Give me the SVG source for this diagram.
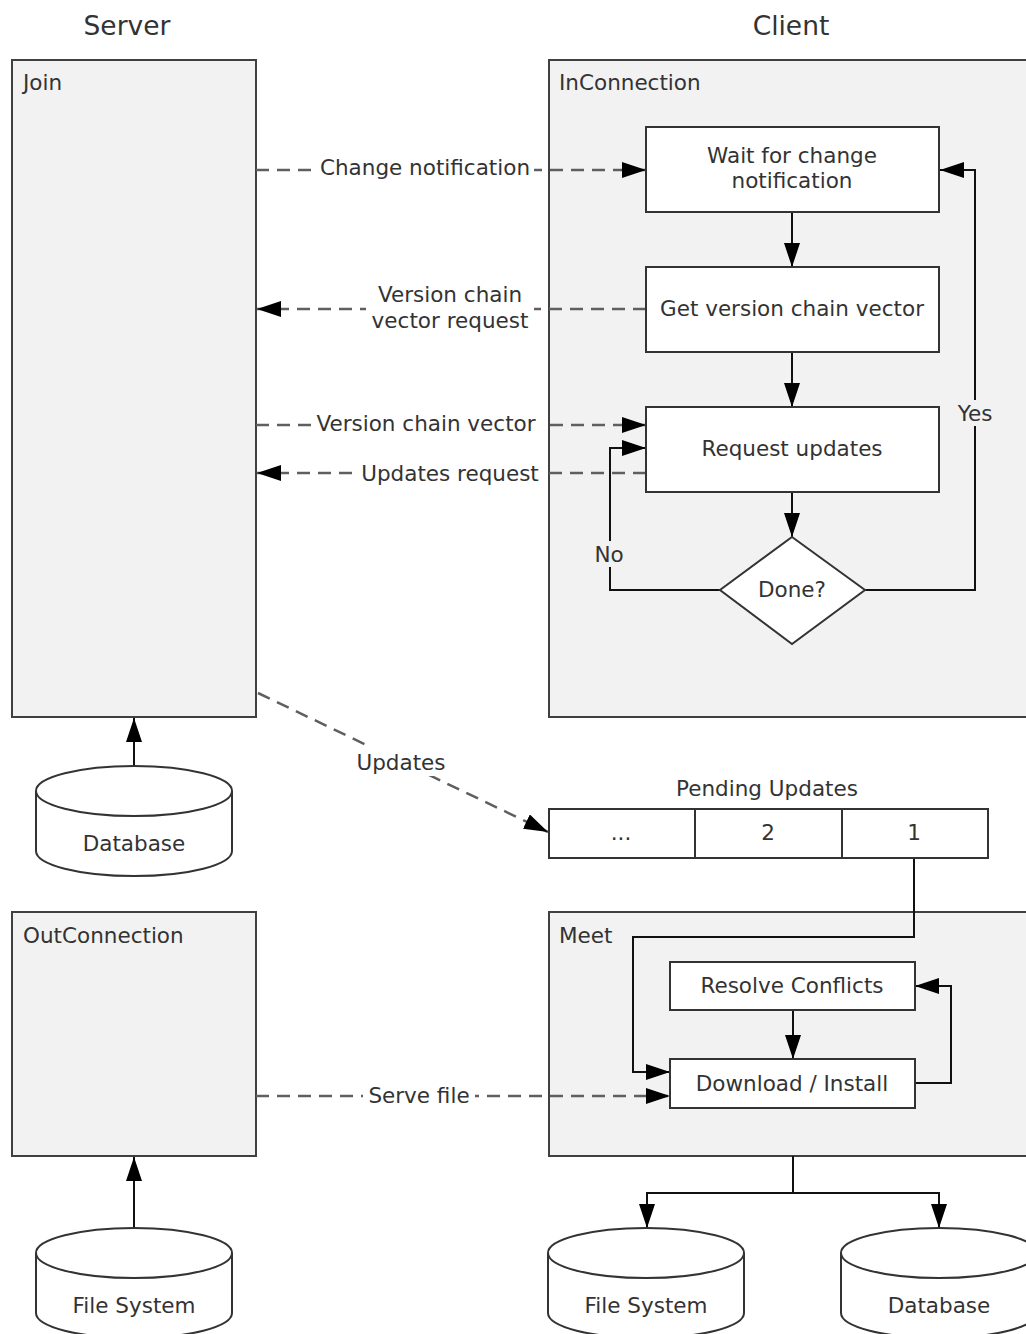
<svg xmlns="http://www.w3.org/2000/svg" width="1026" height="1334" viewBox="0 0 1026 1334">
<defs>
<style>
.t{font-family:"DejaVu Sans","Liberation Sans",sans-serif;font-size:21.5px;fill:#333}
.h{font-family:"DejaVu Sans","Liberation Sans",sans-serif;font-size:26.5px;fill:#333}
.c{text-anchor:middle}
.grp{fill:#f2f2f2;stroke:#404040;stroke-width:2}
.box{fill:#fff;stroke:#333;stroke-width:2}
.sol{fill:none;stroke:#111;stroke-width:2}
.dash{fill:none;stroke:#5f5f5f;stroke-width:2.5;stroke-dasharray:13 8}
</style>
<marker id="ah" markerUnits="userSpaceOnUse" markerWidth="24" markerHeight="16" refX="24" refY="8" orient="auto" viewBox="0 0 24 16">
<path d="M0,0 L24,8 L0,16 Z" fill="#000"/>
</marker>
</defs>
<rect width="1026" height="1334" fill="#fff"/>

<text class="h c" x="127" y="35">Server</text>
<text class="h c" x="791" y="35">Client</text>

<g id="join"><rect class="grp" x="12" y="60" width="244" height="657"/><text class="t" x="23" y="90">Join</text></g>
<g id="inconnection"><rect class="grp" x="549" y="60" width="490" height="657"/><text class="t" x="559" y="90">InConnection</text></g>
<g id="outconnection"><rect class="grp" x="12" y="912" width="244" height="244"/><text class="t" x="23" y="943">OutConnection</text></g>
<g id="meet"><rect class="grp" x="549" y="912" width="490" height="244"/><text class="t" x="559" y="943">Meet</text></g>

<g id="connectors">
<path class="dash" d="M256,170 H646" marker-end="url(#ah)"/>
<path class="dash" d="M646,309 H257" marker-end="url(#ah)"/>
<path class="dash" d="M256,425 H646" marker-end="url(#ah)"/>
<path class="dash" d="M646,473 H257" marker-end="url(#ah)"/>
<path class="dash" d="M258,693 L548,832" marker-end="url(#ah)"/>
<path class="dash" d="M256,1096 H670" marker-end="url(#ah)"/>
<path class="sol" d="M792,212 V267" marker-end="url(#ah)"/>
<path class="sol" d="M792,352 V407" marker-end="url(#ah)"/>
<path class="sol" d="M792,492 V537" marker-end="url(#ah)"/>
<path class="sol" d="M865,590 H975 V170 H940" marker-end="url(#ah)"/>
<path class="sol" d="M720,590 H610 V448 H646" marker-end="url(#ah)"/>
<path class="sol" d="M134,767 V718" marker-end="url(#ah)"/>
<path class="sol" d="M914,858 V937 H633 V1072 H670" marker-end="url(#ah)"/>
<path class="sol" d="M793,1010 V1059" marker-end="url(#ah)"/>
<path class="sol" d="M915,1083 H951 V986 H915" marker-end="url(#ah)"/>
<path class="sol" d="M134,1228 V1157" marker-end="url(#ah)"/>
<path class="sol" d="M793,1156 V1193"/>
<path class="sol" d="M793,1193 H647 V1228" marker-end="url(#ah)"/>
<path class="sol" d="M793,1193 H939 V1228" marker-end="url(#ah)"/>
<rect x="316" y="155" width="218" height="26" fill="#fff"/>
<text class="t c" x="425" y="175">Change notification</text>
<rect x="366" y="280" width="168" height="54" fill="#fff"/>
<text class="t c" x="450" y="302">Version chain</text>
<text class="t c" x="450" y="328">vector request</text>
<rect x="311" y="410" width="231" height="26" fill="#fff"/>
<text class="t c" x="426" y="431">Version chain vector</text>
<rect x="357" y="460" width="186" height="26" fill="#fff"/>
<text class="t c" x="450" y="481">Updates request</text>
<rect x="352" y="746" width="98" height="30" fill="#fff"/>
<text class="t c" x="401" y="770">Updates</text>
<rect x="363" y="1082" width="112" height="26" fill="#fff"/>
<text class="t c" x="419" y="1103">Serve file</text>
<rect x="955" y="400" width="40" height="26" fill="#f2f2f2"/>
<text class="t c" x="975" y="421">Yes</text>
<rect x="593" y="541" width="34" height="26" fill="#f2f2f2"/>
<text class="t c" x="609" y="562">No</text>
</g>

<g id="wait"><rect class="box" x="646" y="127" width="293" height="85"/><text class="t c" x="792" y="163">Wait for change</text><text class="t c" x="792" y="188">notification</text></g>
<g id="getversion"><rect class="box" x="646" y="267" width="293" height="85"/><text class="t c" x="792" y="316">Get version chain vector</text></g>
<g id="requestupdates"><rect class="box" x="646" y="407" width="293" height="85"/><text class="t c" x="792" y="456">Request updates</text></g>
<g id="done"><path class="box" d="M792,537 L865,590 L792,644 L720,590 Z"/><text class="t c" x="792" y="597">Done?</text></g>

<g id="database-server">
<path class="box" d="M36,791 V851 A98,25 0 0 0 232,851 V791 A98,25 0 0 0 36,791 Z"/>
<path class="sol" style="stroke:#333" d="M36,791 A98,25 0 0 0 232,791"/>
<text class="t c" x="134" y="851">Database</text>
</g>

<g id="pending">
<text class="t c" x="767" y="796">Pending Updates</text>
<rect class="box" x="549" y="809" width="146" height="49"/>
<rect class="box" x="695" y="809" width="147" height="49"/>
<rect class="box" x="842" y="809" width="146" height="49"/>
<text class="t c" x="621" y="840">...</text>
<text class="t c" x="768" y="840">2</text>
<text class="t c" x="914" y="840">1</text>
</g>

<g id="resolve"><rect class="box" x="670" y="962" width="245" height="48"/><text class="t c" x="792" y="993">Resolve Conflicts</text></g>
<g id="download"><rect class="box" x="670" y="1059" width="245" height="49"/><text class="t c" x="792" y="1091">Download / Install</text></g>

<g id="filesystem-server">
<path class="box" d="M36,1253 V1313 A98,25 0 0 0 232,1313 V1253 A98,25 0 0 0 36,1253 Z"/>
<path class="sol" style="stroke:#333" d="M36,1253 A98,25 0 0 0 232,1253"/>
<text class="t c" x="134" y="1313">File System</text>
</g>
<g id="filesystem-client">
<path class="box" d="M548,1253 V1313 A98,25 0 0 0 744,1313 V1253 A98,25 0 0 0 548,1253 Z"/>
<path class="sol" style="stroke:#333" d="M548,1253 A98,25 0 0 0 744,1253"/>
<text class="t c" x="646" y="1313">File System</text>
</g>
<g id="database-client">
<path class="box" d="M841,1253 V1313 A98,25 0 0 0 1037,1313 V1253 A98,25 0 0 0 841,1253 Z"/>
<path class="sol" style="stroke:#333" d="M841,1253 A98,25 0 0 0 1037,1253"/>
<text class="t c" x="939" y="1313">Database</text>
</g>
</svg>
